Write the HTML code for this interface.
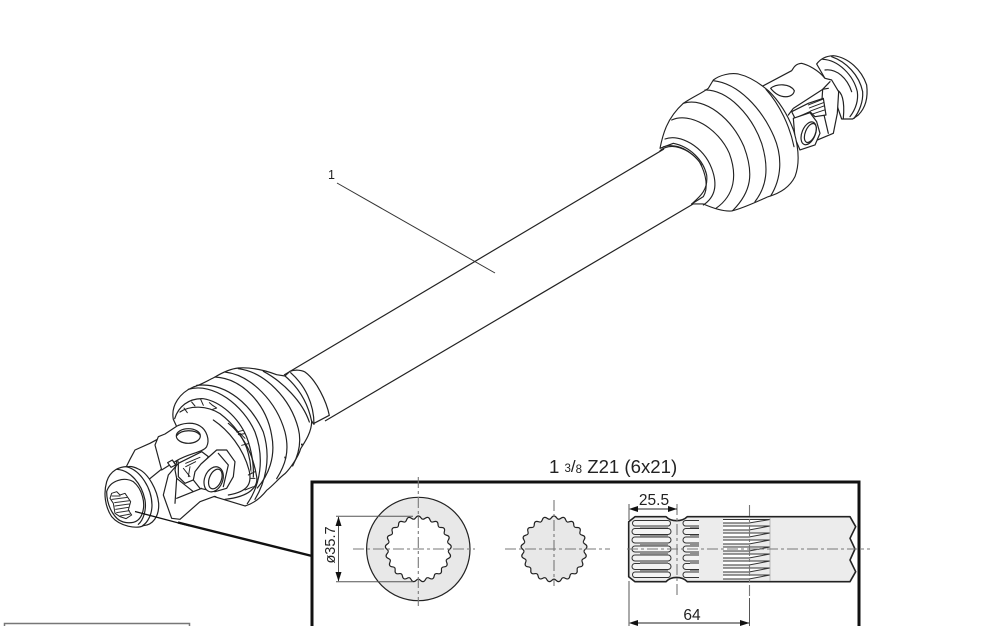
<!DOCTYPE html>
<html><head><meta charset="utf-8"><style>
html,body{margin:0;padding:0;background:#fff;width:1000px;height:626px;overflow:hidden}
svg{display:block}
text{font-family:"Liberation Sans",sans-serif;fill:#222}
</style></head><body>
<svg width="1000" height="626" viewBox="0 0 1000 626" xmlns="http://www.w3.org/2000/svg">
<defs>
<path id="ts" d="M29.75,-4.5 C30.2,-2.3 33,-2.5 33,0 C33,2.5 30.2,2.3 29.75,4.5" fill="none" stroke="#222" stroke-width="1.2"/>
<path id="tf" d="M0,0 L29.75,-4.5 C30.2,-2.3 33,-2.5 33,0 C33,2.5 30.2,2.3 29.75,4.5 Z" stroke="none"/>
<g id="s3"><use href="#ts"/><use href="#ts" transform="rotate(17.143)"/><use href="#ts" transform="rotate(34.286)"/></g>
<g id="f3"><use href="#tf"/><use href="#tf" transform="rotate(17.143)"/><use href="#tf" transform="rotate(34.286)"/></g>
<g id="gs"><use href="#s3"/><use href="#s3" transform="rotate(51.43)"/><use href="#s3" transform="rotate(102.86)"/><use href="#s3" transform="rotate(154.29)"/><use href="#s3" transform="rotate(205.71)"/><use href="#s3" transform="rotate(257.14)"/><use href="#s3" transform="rotate(308.57)"/></g>
<g id="gf"><circle r="30"/><use href="#f3"/><use href="#f3" transform="rotate(51.43)"/><use href="#f3" transform="rotate(102.86)"/><use href="#f3" transform="rotate(154.29)"/><use href="#f3" transform="rotate(205.71)"/><use href="#f3" transform="rotate(257.14)"/><use href="#f3" transform="rotate(308.57)"/></g>
</defs>

<!-- main shaft -->
<g fill="none" stroke="#222" stroke-width="1.2">
<line x1="284" y1="375" x2="664" y2="149"/>
<line x1="325" y1="421" x2="705" y2="197"/>
</g>

<!-- right yoke, crop coords -->
<g transform="translate(760,50) scale(.3333)" fill="#fff" stroke="#222" stroke-width="3.6" stroke-linejoin="round" stroke-linecap="round">
 <path d="M170,42 C180,28 195,18 220,17 C265,22 305,60 320,105 C325,145 315,175 295,195 L278,207 L245,207 L215,120 Z"/>
 <path fill="none" d="M188,28 C235,30 280,75 292,125 C296,155 285,180 270,200"/>
 <path fill="none" d="M215,20 C258,35 298,75 308,125 C310,155 298,185 282,205"/>
 <path fill="none" d="M195,60 C230,55 262,85 275,125"/>
 <path fill="none" d="M230,120 C245,125 255,150 250,205"/>
 <path d="M5,110 L95,62 C102,52 105,42 125,40 C145,45 175,60 195,85 L215,90 L236,125 L232,190 L220,250 L160,275 L100,290 L-10,180 Z"/>
 <path fill="none" d="M210,95 L188,118 L185,165 L205,250"/>
 <path fill="none" d="M205,115 L188,118 L100,175 L85,195"/>
 <path d="M32,115 C50,100 90,100 103,122 C100,145 60,150 32,115 Z"/>
 <path d="M95,185 L145,160 L190,145 L198,195 L165,200 L150,185 L105,205 Z"/>
 <path fill="none" stroke-width="2.8" d="M145,165 L188,148 M148,174 L190,158 M152,183 L192,168 M158,192 L194,180"/>
 <path d="M100,205 L150,188 L170,215 L180,250 L165,285 L120,300 L105,265 Z"/>
 <ellipse cx="146" cy="250" rx="20" ry="36" transform="rotate(22 146 250)"/>
 <ellipse cx="151" cy="249" rx="15" ry="30" transform="rotate(22 151 249)"/>
</g>

<!-- right boot, 3x coordinates -->
<g transform="translate(640,40) scale(.3333)" fill="#fff" stroke="#222" stroke-width="3.4" stroke-linejoin="round" stroke-linecap="round">
 <path d="M60,325 C68,285 80,235 130,190 C160,170 185,160 205,145 L220,120 C240,105 270,98 295,102 C330,110 365,135 385,152 C415,180 445,225 462,275 C475,320 480,370 465,410 C450,440 420,460 385,470 C350,485 310,505 275,513 C250,515 220,505 190,492 L155,492 C180,470 205,450 200,405 C190,360 150,320 100,310 Z"/>
 <path fill="none" d="M75,297 C120,280 190,320 215,385 C232,430 228,470 190,495"/>
 <path fill="none" d="M95,240 C150,215 235,265 268,340 C292,405 285,465 228,505"/>
 <path fill="none" d="M130,190 C195,170 275,235 312,320 C342,400 335,455 278,512"/>
 <path fill="none" d="M195,150 C265,150 335,225 365,310 C388,385 380,440 345,485"/>
 <path fill="none" d="M220,122 C295,130 365,205 402,290 C428,350 425,415 392,468"/>
 <path fill="none" d="M378,148 C420,195 450,260 462,320"/>
 <path fill="none" d="M60,332 C95,305 145,325 178,365 C200,405 205,445 190,470 L155,492"/>
 <path fill="none" stroke-width="2.6" d="M70,320 C110,308 155,330 185,375"/>
</g>

<!-- left boot, crop coords -->
<g transform="translate(170,362) scale(.3333)" fill="#fff" stroke="#222" stroke-width="3.6" stroke-linejoin="round" stroke-linecap="round">
 <path d="M345,42 L360,28 C375,22 395,24 405,30 C440,55 470,120 478,160 L430,185 Z"/>
 <path fill="none" d="M362,32 C405,70 432,125 432,187"/>
 <path d="M10,172 C2,130 30,92 70,75 C90,70 115,55 135,45 C160,30 185,20 205,18 C245,15 285,25 320,38 L345,42 C390,80 415,130 425,178 C425,210 405,240 392,260 C385,285 360,320 345,335 C325,350 310,370 290,385 C270,410 250,425 225,432 L120,400 L60,280 Z"/>
 <path fill="none" d="M135,45 C220,50 290,130 305,220 C318,285 295,340 262,378"/>
 <path fill="none" d="M165,30 C245,40 320,120 345,210 C360,270 345,310 320,350"/>
 <path fill="none" d="M205,20 C285,30 362,110 385,200 C395,240 385,280 368,312"/>
 <path fill="none" d="M280,28 C340,60 398,120 418,180"/>
 <path fill="none" d="M55,82 C130,60 220,130 255,210 C285,290 270,370 232,425"/>
 <path fill="none" d="M80,70 C170,60 245,130 280,210 C305,290 285,362 255,412"/>
 <path fill="none" d="M14,170 C25,135 55,108 100,110 C150,118 205,165 230,225 C245,265 252,310 250,345"/>
 <path fill="none" d="M30,150 C60,130 110,130 150,155 C190,185 225,230 235,275 C242,300 245,330 240,360"/>
 <path fill="none" stroke-width="3" d="M42,138 L52,152 M65,120 L75,132 M92,112 L100,130 M118,122 L130,132 M125,128 L140,138 L128,142 M200,210 L220,205 M205,218 L225,215 M215,250 L235,245"/>
 <path fill="#222" stroke="none" d="M343,284 h5 v5 h-5 Z M393,245 h5 v5 h-5 Z M25,188 h6 v6 h-6 Z"/>
</g>

<!-- yoke body, flange area -->
<g transform="translate(100,420) scale(.3333)" fill="#fff" stroke="#222" stroke-width="3.6" stroke-linejoin="round" stroke-linecap="round">
 <path d="M80,138 L90,118 L105,90 L150,70 L215,35 L235,130 L205,165 L190,225 L215,295 L240,298 L300,245 L355,225 L380,160 L290,90 L200,135 L120,200 Z"/>
</g>
<g transform="translate(165,420) scale(.3333)" fill="#fff" stroke="#222" stroke-width="3.6" stroke-linejoin="round" stroke-linecap="round">
 <path fill="#fff" stroke="none" d="M130,0 C190,30 240,90 262,170 C272,205 250,232 180,235 L100,215 L40,130 Z"/>
 <path fill="none" d="M145,0 C190,30 235,85 252,150 C262,190 250,215 190,225"/>
 <path fill="none" d="M190,10 C240,50 265,110 275,170 C280,200 255,230 180,238"/>
 <path fill="none" stroke-width="3" d="M225,40 L240,55 M250,165 L270,155 M258,175 L270,175 M240,210 L265,200"/>
 <!-- central cross -->
 <path d="M40,130 L110,95 L130,110 L85,180 L60,190 L40,170 Z"/>
 <path fill="none" stroke-width="2.8" d="M62,130 L105,112 M62,140 L92,125 M55,145 L75,170 M75,140 L70,170"/>
 <!-- block with lug -->
 <path d="M108,132 L155,90 L185,90 L210,125 L205,170 L185,205 L150,215 L105,205 L85,180 L90,155 Z"/>
 <path fill="none" d="M160,100 L190,135 L175,200"/>
 <ellipse cx="146" cy="178" rx="27" ry="39" transform="rotate(22 146 178)"/>
 <ellipse cx="151" cy="177" rx="18" ry="31" transform="rotate(22 151 177)"/>
 <!-- upper yoke arm -->
 <path d="M-30,75 L-20,50 L0,42 L30,22 C50,8 85,5 105,18 C125,30 135,60 125,80 C115,97 70,100 35,122 L-10,150 Z"/>
 <ellipse cx="70" cy="48" rx="36" ry="22"/>
 <path fill="none" d="M36,46 C50,28 90,28 104,44"/>
 <path d="M22,120 L8,128 L18,142 L32,135 Z"/>
 <path fill="none" d="M35,125 L30,150 L35,175 L30,250"/>
 <path fill="none" d="M35,175 L85,215 M35,235 L110,205"/>
</g>

<!-- flange -->
<g transform="translate(100,460) scale(.3333)" fill="#fff" stroke="#222" stroke-width="3.6" stroke-linejoin="round" stroke-linecap="round">
 <path d="M20,65 C30,32 60,18 85,20 C95,18 105,22 115,27 C145,40 172,90 176,130 C178,170 158,195 130,197 C110,207 60,200 35,170 C15,140 10,100 20,65 Z"/>
 <path fill="none" d="M50,28 C90,30 125,70 135,120 C140,150 130,180 115,193"/>
 <path fill="none" d="M78,20 C122,30 155,85 156,135 C156,165 142,188 128,197"/>
 <path fill="none" d="M20,95 C30,60 75,50 100,65 C125,85 140,130 125,165 C115,187 95,192 70,186 C45,180 20,140 20,95 Z"/>
 <path d="M35,100 L50,95 L60,105 L75,100 L92,125 L85,150 L95,165 L78,176 L60,170 L45,160 L40,130 L30,115 Z" stroke-width="3"/>
 <path fill="none" stroke="#333" stroke-width="3" d="M36,108 L60,108 M36,118 L82,112 M44,128 L90,122 M45,138 L88,132 M47,148 L86,142 M50,158 L88,152 M60,168 L92,162"/>
</g>

<!-- leaders -->
<line x1="337" y1="183" x2="495" y2="273" stroke="#333" stroke-width="1"/>
<text x="328" y="179" font-size="12.5">1</text>
<line x1="135" y1="511.5" x2="190" y2="526" stroke="#111" stroke-width="1.3"/>
<line x1="178" y1="522.5" x2="312" y2="556" stroke="#111" stroke-width="2.4"/>

<!-- inset frame -->
<path d="M312,630 V482 H859 V630" fill="#fff" stroke="#111" stroke-width="3"/>
<text x="549" y="473" font-size="18.6">1 <tspan font-size="11.5" dy="-1">3</tspan><tspan font-size="17" dy="0">/</tspan><tspan font-size="11.5" dy="1">8</tspan> Z21 (6x21)</text>

<!-- gears -->
<circle cx="418.3" cy="549" r="51.7" fill="#e8e8e8" stroke="#222" stroke-width="1.2"/>
<g transform="translate(418.3,549) rotate(-90)"><use href="#gf" fill="#fff"/><use href="#gs"/></g>
<g transform="translate(554,549) rotate(-90)"><use href="#gf" fill="#e8e8e8"/><use href="#gs"/></g>

<!-- splined shaft -->
<path d="M628.7,521.7 L635,516.7 H666 C671,522 682,522 687.3,516.7 H850 L855.7,526.7 L850,538.3 L855,549 L850,560 L855.7,571.7 L850,581.7 H687.3 C682,576 671,576 666,581.7 H635 L628.7,576.7 Z" fill="#ececec" stroke="#222" stroke-width="1.6" stroke-linejoin="round"/>
<!-- tooth bands -->
<g fill="#f4f4f4" stroke="#333" stroke-width="1">
 <rect x="632.5" y="520.5" width="38" height="5.5" rx="2.7"/>
 <rect x="632" y="528.5" width="39" height="6" rx="3"/>
 <rect x="632" y="537" width="39" height="6" rx="3"/>
 <rect x="632" y="546" width="39" height="6" rx="3"/>
 <rect x="632" y="555" width="39" height="6" rx="3"/>
 <rect x="632" y="563.5" width="39" height="6" rx="3"/>
 <rect x="632.5" y="572" width="38" height="5.5" rx="2.7"/>
 <rect x="683" y="520.5" width="24" height="5.5" rx="2.7"/>
 <rect x="683" y="528.5" width="24" height="6" rx="3"/>
 <rect x="683" y="537" width="24" height="6" rx="3"/>
 <rect x="683" y="546" width="24" height="6" rx="3"/>
 <rect x="683" y="555" width="24" height="6" rx="3"/>
 <rect x="683" y="563.5" width="24" height="6" rx="3"/>
 <rect x="683" y="572" width="24" height="5.5" rx="2.7"/>
</g>
<g fill="#8f8f8f" stroke="none">
 <rect x="640" y="526" width="28" height="1.8"/><rect x="640" y="535" width="28" height="1.8"/><rect x="640" y="544" width="28" height="1.8"/><rect x="640" y="553" width="28" height="1.8"/><rect x="640" y="562" width="28" height="1.8"/><rect x="640" y="570" width="28" height="1.8"/>
 <rect x="690" y="526" width="9" height="2"/><rect x="690" y="535" width="9" height="2"/><rect x="690" y="544" width="9" height="2"/><rect x="690" y="553" width="9" height="2"/><rect x="690" y="562" width="9" height="2"/><rect x="690" y="570" width="9" height="2"/>
</g>
<rect x="699" y="518" width="24" height="62" fill="#ececec"/>
<g fill="#fff" stroke="#333" stroke-width="1">
 <path d="M723,519.5 H770 L749,523 H723"/>
 <path d="M723,526 H770 L749,530 H723"/>
 <path d="M723,533 H770 L749,537 H723"/>
 <path d="M723,540 H770 L749,544 H723"/>
 <path d="M723,547 H770 L749,551 H723"/>
 <path d="M723,554 H770 L749,558 H723"/>
 <path d="M723,561 H770 L749,565 H723"/>
 <path d="M723,568 H770 L749,572 H723"/>
 <path d="M723,575 H770 L749,579 H723"/>
</g>
<line x1="770" y1="518" x2="770" y2="581" stroke="#aaa" stroke-width=".8"/>

<!-- centre lines -->
<g stroke="#777" stroke-width="1.1" fill="none" stroke-dasharray="11 3 3 3">
<line x1="418.3" y1="477" x2="418.3" y2="606"/>
<line x1="353" y1="549" x2="475" y2="549"/>
<line x1="554" y1="500" x2="554" y2="586"/>
<line x1="505" y1="549" x2="610" y2="549"/>
<line x1="627" y1="549" x2="870" y2="549"/>
<line x1="677" y1="504" x2="677" y2="598"/>
<line x1="749.5" y1="505" x2="749.5" y2="598"/>
</g>

<!-- dimensions -->
<g stroke="#555" stroke-width="1" fill="none">
<line x1="336" y1="516.3" x2="413" y2="516.3"/>
<line x1="336" y1="581.7" x2="413" y2="581.7"/>
<line x1="338.5" y1="517" x2="338.5" y2="581"/>
<line x1="629" y1="581" x2="629" y2="626"/>
<line x1="749.5" y1="598" x2="749.5" y2="626"/>
<line x1="629" y1="504" x2="629" y2="520"/>
</g>
<g stroke="#222" stroke-width="1" fill="none">
<line x1="630" y1="509" x2="677" y2="509"/>
<line x1="630" y1="623" x2="749" y2="623"/>
</g>
<g fill="#111">
<path d="M338.5,516.5 L335.5,526 H341.5 Z"/>
<path d="M338.5,581.5 L335.5,572 H341.5 Z"/>
<path d="M629,509 L638,506 V512 Z"/>
<path d="M677,509 L668,506 V512 Z"/>
<path d="M629,623 L638,620 V626 Z"/>
<path d="M749.5,623 L740,620 V626 Z"/>
</g>
<text x="654" y="505" font-size="15.5" text-anchor="middle">25.5</text>
<text x="692" y="620" font-size="15.5" text-anchor="middle">64</text>
<text transform="translate(335,545) rotate(-90)" font-size="14.5" text-anchor="middle">ø35.7</text>

<!-- bottom-left box -->
<path d="M4.5,626 V623.5 H189.5 V626" fill="none" stroke="#777" stroke-width="1.5"/>
</svg>
</body></html>
